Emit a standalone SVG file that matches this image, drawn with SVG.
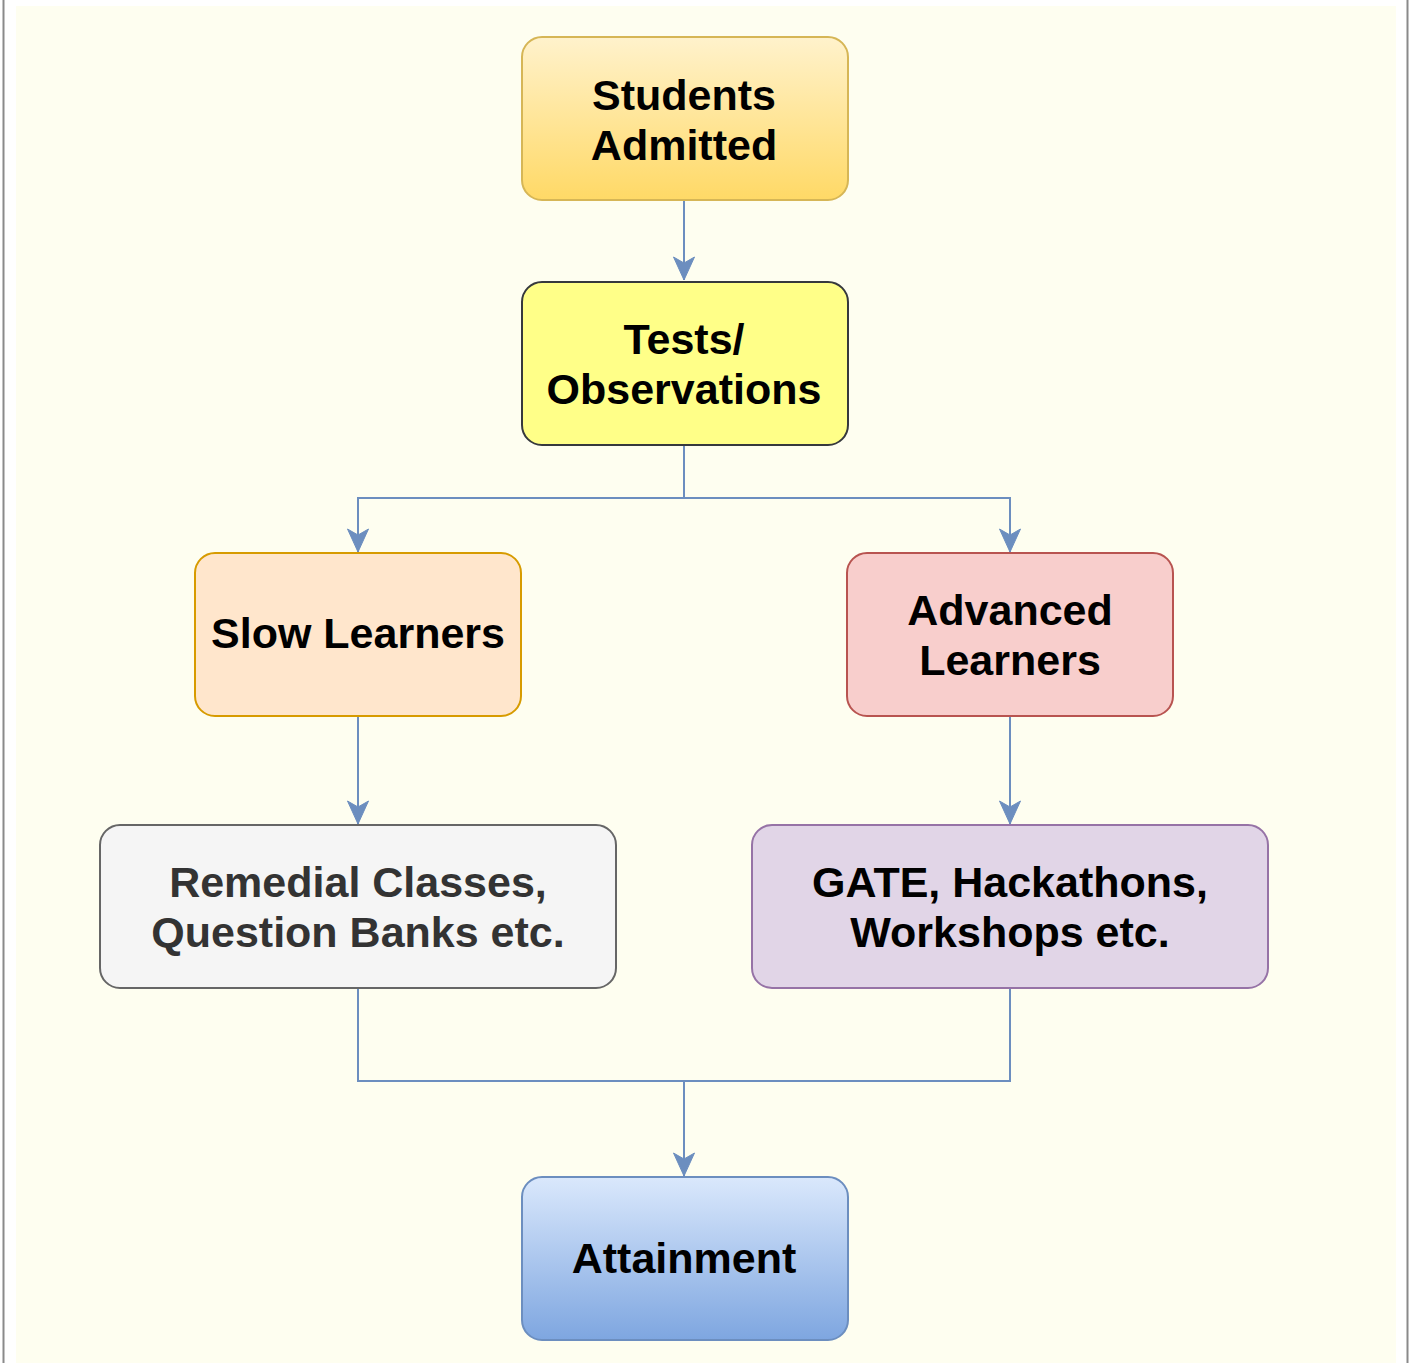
<svg xmlns="http://www.w3.org/2000/svg" width="1413" height="1363" viewBox="0 0 1413 1363">
  <defs>
    <linearGradient id="gYellow" x1="0" y1="0" x2="0" y2="1">
      <stop offset="0" stop-color="#fff2cc"/>
      <stop offset="1" stop-color="#ffd966"/>
    </linearGradient>
    <linearGradient id="gBlue" x1="0" y1="0" x2="0" y2="1">
      <stop offset="0" stop-color="#dae8fc"/>
      <stop offset="1" stop-color="#7ea6e0"/>
    </linearGradient>
    <marker id="arrow" markerUnits="userSpaceOnUse" markerWidth="26" markerHeight="24" viewBox="-24 -12 26 24" refX="0" refY="0" orient="auto">
      <path d="M0,0 L-23,-10.5 L-17,0 L-23,10.5 Z" fill="#6c8ebf" stroke="#6c8ebf" stroke-width="1" stroke-linejoin="miter"/>
    </marker>
  </defs>
  <style>
    .node rect { stroke-width: 2; }
    .lbl { font-family: "Liberation Sans", Arial, Helvetica, sans-serif; font-weight: bold; font-size: 43px; text-anchor: middle; fill: #000000; }
    .dark { fill: #333333; }
    .conn { fill: none; stroke: #6c8ebf; stroke-width: 2; }
  </style>
  <rect x="0" y="0" width="1413" height="1363" fill="#ffffff"/>
  <rect x="16" y="6" width="1380" height="1357" fill="#fefef0"/>
  <line x1="3.5" y1="0" x2="3.5" y2="1363" stroke="#8a8a8a" stroke-width="2"/>
  <line x1="1407.5" y1="0" x2="1407.5" y2="1363" stroke="#8a8a8a" stroke-width="2"/>

  <g id="connectors">
    <path class="conn" d="M684,200 V280" marker-end="url(#arrow)"/>
    <path class="conn" d="M684,445 V498 H358 V552" marker-end="url(#arrow)"/>
    <path class="conn" d="M684,498 H1010 V552" marker-end="url(#arrow)"/>
    <path class="conn" d="M358,716 V824" marker-end="url(#arrow)"/>
    <path class="conn" d="M1010,716 V824" marker-end="url(#arrow)"/>
    <path class="conn" d="M358,988 V1081 H1010 V988"/>
    <path class="conn" d="M684,1081 V1176" marker-end="url(#arrow)"/>
  </g>

  <g id="students-admitted" class="node">
    <rect x="522" y="37" width="326" height="163" rx="20" fill="url(#gYellow)" stroke="#d6b656"/>
    <text class="lbl" x="684" y="110">Students</text>
    <text class="lbl" x="684" y="160">Admitted</text>
  </g>
  <g id="tests-observations" class="node">
    <rect x="522" y="282" width="326" height="163" rx="20" fill="#ffff88" stroke="#36393d"/>
    <text class="lbl" x="684" y="354">Tests/</text>
    <text class="lbl" x="684" y="404">Observations</text>
  </g>
  <g id="slow-learners" class="node">
    <rect x="195" y="553" width="326" height="163" rx="20" fill="#ffe6cc" stroke="#d79b00"/>
    <text class="lbl" x="358" y="648">Slow Learners</text>
  </g>
  <g id="advanced-learners" class="node">
    <rect x="847" y="553" width="326" height="163" rx="20" fill="#f8cecc" stroke="#b85450"/>
    <text class="lbl" x="1010" y="625">Advanced</text>
    <text class="lbl" x="1010" y="675">Learners</text>
  </g>
  <g id="remedial-classes" class="node">
    <rect x="100" y="825" width="516" height="163" rx="20" fill="#f5f5f5" stroke="#666666"/>
    <text class="lbl dark" x="358" y="897">Remedial Classes,</text>
    <text class="lbl dark" x="358" y="947">Question Banks etc.</text>
  </g>
  <g id="gate-hackathons" class="node">
    <rect x="752" y="825" width="516" height="163" rx="20" fill="#e1d5e7" stroke="#9673a6"/>
    <text class="lbl" x="1010" y="897">GATE, Hackathons,</text>
    <text class="lbl" x="1010" y="947">Workshops etc.</text>
  </g>
  <g id="attainment" class="node">
    <rect x="522" y="1177" width="326" height="163" rx="20" fill="url(#gBlue)" stroke="#6c8ebf"/>
    <text class="lbl" x="684" y="1273">Attainment</text>
  </g>
</svg>
